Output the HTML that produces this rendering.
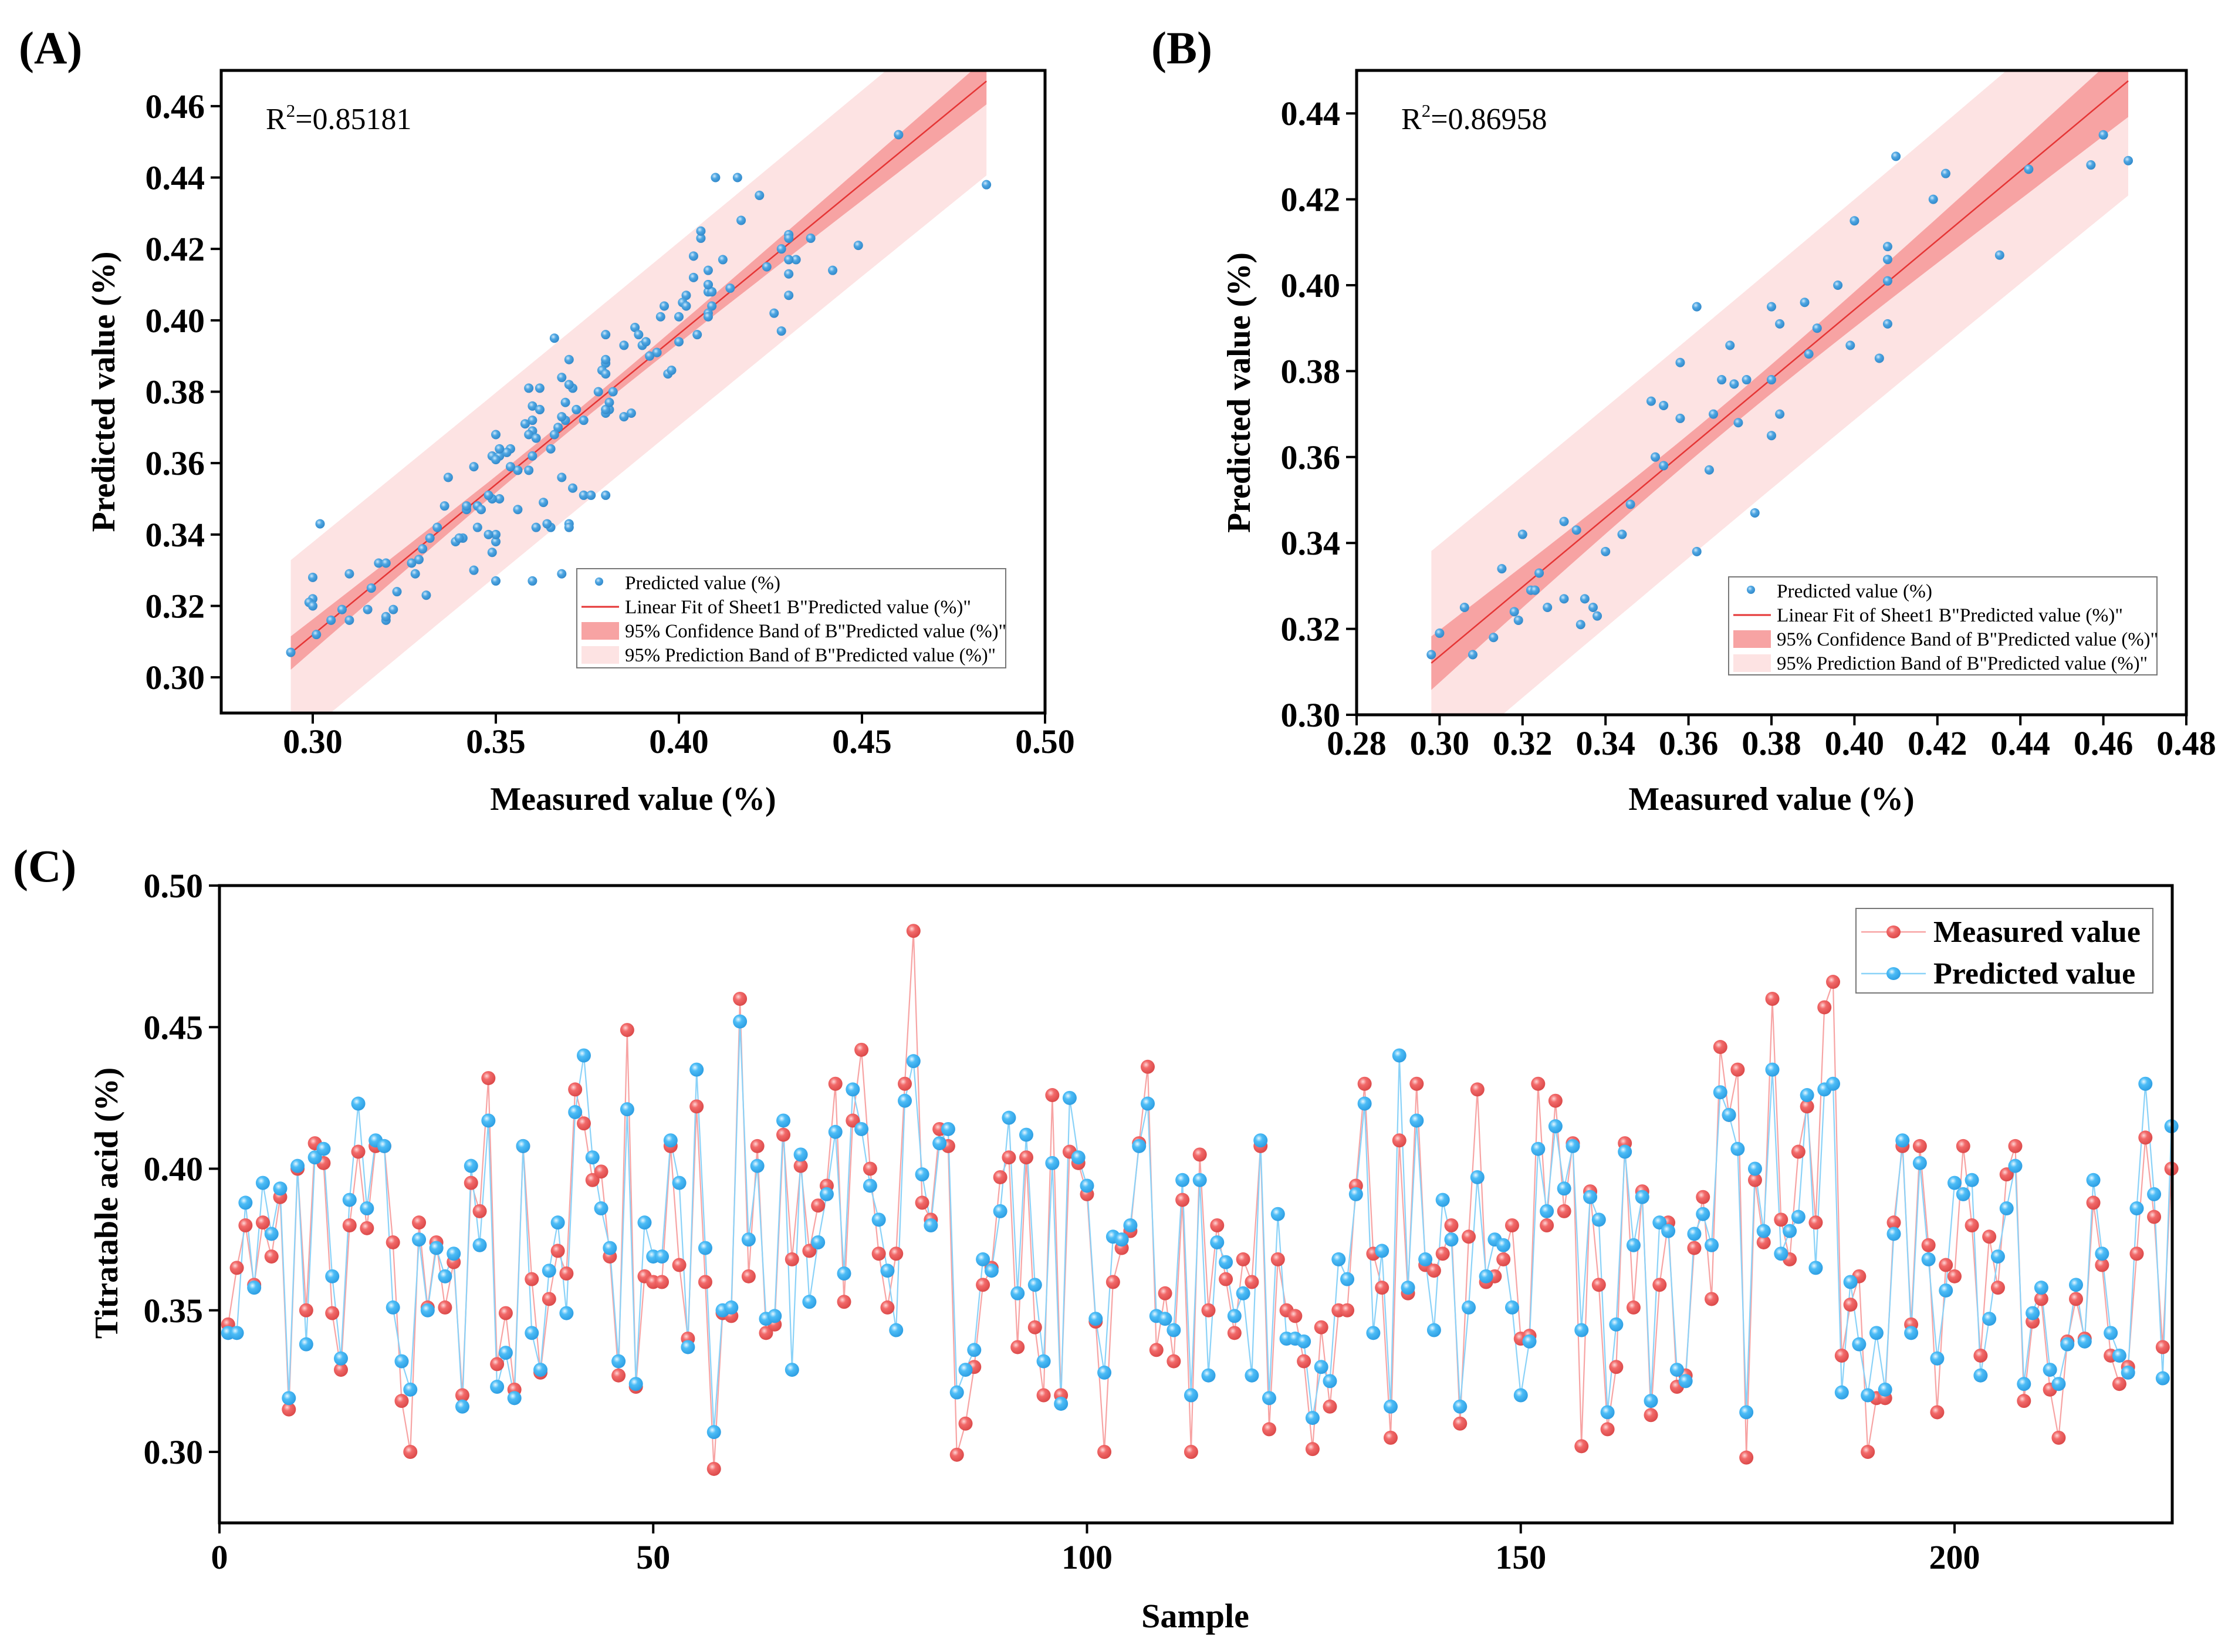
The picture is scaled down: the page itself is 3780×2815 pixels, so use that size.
<!DOCTYPE html>
<html><head><meta charset="utf-8"><style>
html,body{margin:0;padding:0;background:#fff}
svg{display:block}
text{font-family:"Liberation Serif","DejaVu Serif",serif}
</style></head><body>
<svg id="fig" xmlns="http://www.w3.org/2000/svg" width="3780" height="2815" viewBox="0 0 3780 2815">
<defs>
<radialGradient id="gR" cx="0.38" cy="0.35" r="0.7"><stop offset="0" stop-color="#ffd6d6"/><stop offset="0.35" stop-color="#f26a6a"/><stop offset="1" stop-color="#d94646"/></radialGradient>
<radialGradient id="gB" cx="0.38" cy="0.35" r="0.7"><stop offset="0" stop-color="#e6f7ff"/><stop offset="0.35" stop-color="#4dbdf7"/><stop offset="1" stop-color="#2a9be0"/></radialGradient>
<radialGradient id="gS" cx="0.38" cy="0.35" r="0.7"><stop offset="0" stop-color="#cfe9fb"/><stop offset="0.4" stop-color="#4ea6e2"/><stop offset="1" stop-color="#2f86c8"/></radialGradient>
<clipPath id="clipA"><rect x="377" y="120" width="1404" height="1095"/></clipPath>
<clipPath id="clipB"><rect x="2312" y="120" width="1414" height="1098"/></clipPath>
</defs>
<g id="root"></g>
</svg>
<script>
// ---- Panel C data ----
const measured = [.345,.365,.380,.359,.381,.369,.390,.315,.400,.350,.409,.402,.349,.329,.380,.406,.379,.408,.408,.374,.318,.300,.381,.351,.374,.351,.367,.320,.395,.385,.432,.331,.349,.322,.408,.361,.328,.354,.371,.363,.428,.416,.396,.399,.369,.327,.449,.323,.362,.360,.360,.408,.366,.340,.422,.360,.294,.349,.348,.460,.362,.408,.342,.345,.412,.368,.401,.371,.387,.394,.430,.353,.417,.442,.400,.370,.351,.370,.430,.484,.388,.382,.414,.408,.299,.310,.330,.359,.365,.397,.404,.337,.404,.344,.320,.426,.320,.406,.402,.391,.346,.300,.360,.372,.378,.409,.436,.336,.356,.332,.389,.300,.405,.350,.380,.361,.342,.368,.360,.408,.308,.368,.350,.348,.332,.301,.344,.316,.350,.350,.394,.430,.370,.358,.305,.410,.356,.430,.366,.364,.370,.380,.310,.376,.428,.360,.362,.368,.380,.340,.341,.430,.380,.424,.385,.409,.302,.392,.359,.308,.330,.409,.351,.392,.313,.359,.381,.323,.327,.372,.390,.354,.443,.419,.435,.298,.396,.374,.460,.382,.368,.406,.422,.381,.457,.466,.334,.352,.362,.300,.319,.319,.381,.408,.345,.408,.373,.314,.366,.362,.408,.380,.334,.376,.358,.398,.408,.318,.346,.354,.322,.305,.339,.354,.340,.388,.366,.334,.324,.330,.370,.411,.383,.337,.400];
const predicted = [.342,.342,.388,.358,.395,.377,.393,.319,.401,.338,.404,.407,.362,.333,.389,.423,.386,.410,.408,.351,.332,.322,.375,.350,.372,.362,.370,.316,.401,.373,.417,.323,.335,.319,.408,.342,.329,.364,.381,.349,.420,.440,.404,.386,.372,.332,.421,.324,.381,.369,.369,.410,.395,.337,.435,.372,.307,.350,.351,.452,.375,.401,.347,.348,.417,.329,.405,.353,.374,.391,.413,.363,.428,.414,.394,.382,.364,.343,.424,.438,.398,.380,.409,.414,.321,.329,.336,.368,.364,.385,.418,.356,.412,.359,.332,.402,.317,.425,.404,.394,.347,.328,.376,.375,.380,.408,.423,.348,.347,.343,.396,.320,.396,.327,.374,.367,.348,.356,.327,.410,.319,.384,.340,.340,.339,.312,.330,.325,.368,.361,.391,.423,.342,.371,.316,.440,.358,.417,.368,.343,.389,.375,.316,.351,.397,.362,.375,.373,.351,.320,.339,.407,.385,.415,.393,.408,.343,.390,.382,.314,.345,.406,.373,.390,.318,.381,.378,.329,.325,.377,.384,.373,.427,.419,.407,.314,.400,.378,.435,.370,.378,.383,.426,.365,.428,.430,.321,.360,.338,.320,.342,.322,.377,.410,.342,.402,.368,.333,.357,.395,.391,.396,.327,.347,.369,.386,.401,.324,.349,.358,.329,.324,.338,.359,.339,.396,.370,.342,.334,.328,.386,.430,.391,.326,.415];
const sampleStart = 1;
// ---- Panel B (validation set) points ----
const bMeasured = [.298,.300,.306,.308,.313,.315,.318,.319,.320,.322,.323,.324,.326,.330,.330,.333,.334,.335,.337,.338,.340,.344,.346,.351,.352,.354,.354,.358,.358,.362,.362,.365,.366,.368,.370,.371,.372,.374,.376,.380,.380,.380,.382,.382,.388,.389,.391,.396,.399,.400,.406,.408,.408,.408,.408,.410,.419,.422,.435,.442,.457,.460,.466];
const bPredicted = [.314,.319,.325,.314,.318,.334,.324,.322,.342,.329,.329,.333,.325,.345,.327,.343,.321,.327,.325,.323,.338,.342,.349,.373,.360,.372,.358,.369,.382,.395,.338,.357,.370,.378,.386,.377,.368,.378,.347,.395,.378,.365,.391,.370,.396,.384,.390,.400,.386,.415,.383,.409,.406,.401,.391,.430,.420,.426,.407,.427,.428,.435,.429];
const tickAx = [0.30,0.35,0.40,0.45,0.50];
const tickAy = [0.30,0.32,0.34,0.36,0.38,0.40,0.42,0.44,0.46];
const tickBx = [0.28,0.30,0.32,0.34,0.36,0.38,0.40,0.42,0.44,0.46,0.48];
const tickBy = [0.30,0.32,0.34,0.36,0.38,0.40,0.42,0.44];
const tickCx = [0,50,100,150,200];
const tickCy = [0.30,0.35,0.40,0.45,0.50];
const r2A = "0.85181", r2B = "0.86958";

const NS="http://www.w3.org/2000/svg";
const root=document.getElementById('root');
function el(tag,attrs,parent,txt){const e=document.createElementNS(NS,tag);for(const k in attrs)e.setAttribute(k,attrs[k]);if(txt!==undefined)e.textContent=txt;(parent||root).appendChild(e);return e;}
function lin(d0,d1,r0,r1){return v=>r0+(v-d0)*(r1-r0)/(d1-d0);}

function axes(g,box,xs,ys,xt,yt,fmtx,fmty,xoff){
  const f=el('rect',{x:box.x,y:box.y,width:box.w,height:box.h,fill:'none',stroke:'#000','stroke-width':5},g);
  
  xt.forEach(v=>{const x=xs(v);
    const t=el('line',{x1:x,x2:x,y1:box.y+box.h,y2:box.y+box.h+18,stroke:'#000','stroke-width':4},g);
    
    const l=el('text',{x:x,y:box.y+box.h+xoff,'text-anchor':'middle','font-size':58,'font-weight':'bold'},g,fmtx(v));
    });
  yt.forEach(v=>{const y=ys(v);
    const t=el('line',{x1:box.x-18,x2:box.x,y1:y,y2:y,stroke:'#000','stroke-width':4},g);
    
    const l=el('text',{x:box.x-28,y:y+20,'text-anchor':'end','font-size':58,'font-weight':'bold'},g,fmty(v));
    });
}

function scatterPanel(id,box,xd,yd,xt,yt,X,Y,r2,leg,clip){
  const g=el('g',{});
  const xs=lin(xd[0],xd[1],box.x,box.x+box.w), ys=lin(yd[0],yd[1],box.y+box.h,box.y);
  const n=X.length, xm=X.reduce((a,b)=>a+b)/n, ym=Y.reduce((a,b)=>a+b)/n;
  let sxx=0,sxy=0;for(let i=0;i<n;i++){sxx+=(X[i]-xm)**2;sxy+=(X[i]-xm)*(Y[i]-ym);}
  const b=sxy/sxx,a=ym-b*xm;let sse=0;for(let i=0;i<n;i++)sse+=(Y[i]-a-b*X[i])**2;
  const s=Math.sqrt(sse/(n-2)),t=1.98;
  const x0=Math.min(...X),x1=Math.max(...X);const N=60;
  const up=[],lo=[],cu=[],cl=[];
  for(let k=0;k<=N;k++){const x=x0+(x1-x0)*k/N,yh=a+b*x,h=1/n+(x-xm)**2/sxx;
    const c=t*s*Math.sqrt(h),p=t*s*Math.sqrt(1+h);
    up.push([xs(x),ys(yh+p)]);lo.push([xs(x),ys(yh-p)]);cu.push([xs(x),ys(yh+c)]);cl.push([xs(x),ys(yh-c)]);}
  const poly=(A,B)=>A.concat(B.slice().reverse()).map(p=>p[0].toFixed(1)+','+p[1].toFixed(1)).join(' ');
  const cg=el('g',{'clip-path':'url(#'+clip+')'},g);
  const pb=el('polygon',{points:poly(up,lo),fill:'#fde3e3'},cg);
  
  const cb=el('polygon',{points:poly(cu,cl),fill:'#f7a3a3'},cg);
  
  const fl=el('line',{x1:xs(x0),y1:ys(a+b*x0),x2:xs(x1),y2:ys(a+b*x1),stroke:'#e53535','stroke-width':2.5},cg);
  
  for(let i=0;i<n;i++){const c=el('circle',{cx:xs(X[i]),cy:ys(Y[i]),r:8,fill:'url(#gS)'},cg);
    }
  axes(g,box,xs,ys,xt,yt,v=>v.toFixed(2),v=>v.toFixed(2),68);
  const rt=el('text',{x:box.x+76,y:box.y+100,'font-size':52},g);
  
  el('tspan',{},rt,'R');el('tspan',{'font-size':31,dy:-21},rt,'2');el('tspan',{dy:21},rt,'='+r2);
  const lg=el('g',{},g);
  el('rect',{x:leg.x,y:leg.y,width:leg.w,height:leg.h,fill:'#fff',stroke:'#777','stroke-width':2},lg);
  const labs=['Predicted value  (%)','Linear Fit of Sheet1 B"Predicted value  (%)"','95% Confidence Band of B"Predicted value  (%)"','95% Prediction Band of B"Predicted value  (%)"'];
  const tl=[265,590,650,632];
  labs.forEach((s,k)=>{const cy=leg.y+24+k*41;
    if(k==0)el('circle',{cx:leg.x+38,cy:cy-2,r:7,fill:'url(#gS)'},lg);
    if(k==1)el('line',{x1:leg.x+8,x2:leg.x+72,y1:cy,y2:cy,stroke:'#e53535','stroke-width':3},lg);
    if(k==2)el('rect',{x:leg.x+8,y:cy-15,width:64,height:30,fill:'#f7a3a3'},lg);
    if(k==3)el('rect',{x:leg.x+8,y:cy-15,width:64,height:30,fill:'#fde3e3'},lg);
    const tx=el('text',{x:leg.x+82,y:cy+11,'font-size':33,textLength:tl[k],lengthAdjust:'spacingAndGlyphs'},lg,s);
    });
  const xtit=el('text',{x:box.x+box.w/2,y:1380,'text-anchor':'middle','font-size':56,'font-weight':'bold'},g,'Measured value (%)');
  
  const cx=box.x-182,cy=box.y+box.h/2;
  const ytit=el('text',{x:cx,y:cy,'text-anchor':'middle','font-size':56,'font-weight':'bold',transform:'rotate(-90 '+cx+' '+cy+')'},g,'Predicted value  (%)');
  
}

// training set (panel A): all C samples except nearest match for each B point
const used=new Set();
bMeasured.forEach((m,k)=>{let best=-1,bd=1e9;measured.forEach((v,i)=>{if(used.has(i))return;const d=(v-m)**2+(predicted[i]-bPredicted[k])**2;if(d<bd){bd=d;best=i;}});used.add(best);});
const trainIdx=measured.map((_,i)=>i).filter(i=>!used.has(i));
scatterPanel('panel-a',{x:377,y:120,w:1404,h:1095},[0.275,0.50],[0.29,0.47],tickAx,tickAy,trainIdx.map(i=>measured[i]),trainIdx.map(i=>predicted[i]),r2A,{x:983,y:969,w:731,h:169},'clipA');
scatterPanel('panel-b',{x:2312,y:120,w:1414,h:1098},[0.28,0.48],[0.30,0.45],tickBx,tickBy,bMeasured,bPredicted,r2B,{x:2946,y:983,w:730,h:167},'clipB');

// Panel C
(function(){
  const box={x:374,y:1509,w:3328,h:1086};
  const g=el('g',{});
  const xs=lin(0,200,374,3331), ys=lin(0.30,0.50,2474,1509);
  const ptsM=measured.map((v,i)=>xs(i+sampleStart).toFixed(1)+','+ys(v).toFixed(1)).join(' ');
  const ptsP=predicted.map((v,i)=>xs(i+sampleStart).toFixed(1)+','+ys(v).toFixed(1)).join(' ');
  const lm=el('polyline',{points:ptsM,fill:'none',stroke:'#f7a3a3','stroke-width':2.2},g);
  
  const lp=el('polyline',{points:ptsP,fill:'none',stroke:'#8ad2f8','stroke-width':2.2},g);
  
  measured.forEach((v,i)=>{const c=el('ellipse',{cx:xs(i+sampleStart),cy:ys(v),rx:12,ry:12,fill:'url(#gR)'},g);
    });
  predicted.forEach((v,i)=>{const c=el('ellipse',{cx:xs(i+sampleStart),cy:ys(v),rx:12,ry:12,fill:'url(#gB)'},g);
    });
  axes(g,box,xs,ys,tickCx,tickCy,v=>String(v),v=>v.toFixed(2),78);
  const xt=el('text',{x:2037,y:2773,'text-anchor':'middle','font-size':58,'font-weight':'bold'},g,'Sample');
  
  const cx=200,cy=2050;
  const yt=el('text',{x:cx,y:cy,'text-anchor':'middle','font-size':56,'font-weight':'bold',transform:'rotate(-90 '+cx+' '+cy+')'},g,'Titratable acid (%)');
  
  const lg=el('g',{},g);
  el('rect',{x:3163,y:1548,width:506,height:144,fill:'#fff',stroke:'#777','stroke-width':2},lg);
  [['Measured value','#f7a3a3','url(#gR)',1588],['Predicted value','#8ad2f8','url(#gB)',1659]].forEach(r=>{
    el('line',{x1:3172,x2:3282,y1:r[3],y2:r[3],stroke:r[1],'stroke-width':2.5},lg);
    el('ellipse',{cx:3227,cy:r[3],rx:12,ry:11,fill:r[2]},lg);
    const t=el('text',{x:3295,y:r[3]+17,'font-size':52,'font-weight':'bold'},lg,r[0]);
    });
})();

[['(A)',32,108],['(B)',1962,108],['(C)',22,1502]].forEach(p=>{
  const t=el('text',{x:p[1],y:p[2],'font-size':78,'font-weight':'bold'},root,p[0]);
  });
</script>
</body></html>
